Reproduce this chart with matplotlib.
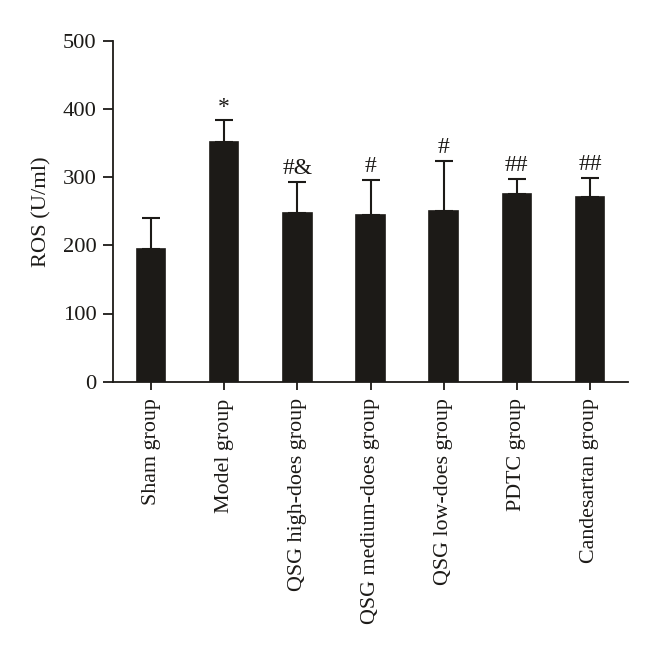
import matplotlib
matplotlib.use('Agg')
import matplotlib.pyplot as plt
import numpy as np

groups = ['Sham group', 'Model group', 'QSG high-does group', 'QSG medium-does group',
          'QSG low-does group', 'PDTC group', 'Candesartan group']
ros = [195, 351, 247, 245, 250, 275, 271]
err = [45, 32, 46, 51, 74, 22, 28]
marks = ['', '*', '#&', '#', '#', '##', '##']

plt.rcParams['font.family'] = ['Liberation Serif', 'DejaVu Serif']

fig = plt.figure(figsize=(6.6, 6.59), dpi=100)
ax = fig.add_axes([113/660, 1-381.7/659, (628-113)/660, (381.7-40.7)/659])

x = np.arange(len(groups))
col = '#1c1a17'
ax.bar(x, ros, width=0.39, color=col, edgecolor=col, linewidth=1.2, zorder=2)
ax.errorbar(x, ros, yerr=[np.zeros(len(err)), err], fmt='none', ecolor=col,
            elinewidth=1.5, capsize=6.3, capthick=1.5, zorder=1)

for i in range(len(groups)):
    ax.text(x[i], ros[i]+err[i]+4, marks[i], ha='center', va='bottom', fontsize=17, color=col)

ax.set_xlim(-0.52, 6.52)
ax.set_ylim(0, 500)
ax.set_yticks([0, 100, 200, 300, 400, 500])
ax.set_xticks(x)
ax.set_xticklabels(groups, rotation=90, fontsize=15.8, color=col)
ax.tick_params(axis='y', labelsize=16.2, length=7, width=1.3, colors=col, pad=5)
ax.tick_params(axis='x', length=6, width=1.3, colors=col, pad=6)
for s in ['top', 'right']:
    ax.spines[s].set_visible(False)
for s in ['left', 'bottom']:
    ax.spines[s].set_linewidth(1.3)
    ax.spines[s].set_color(col)
ax.set_ylabel('ROS (U/ml)', fontsize=16.2, color=col, labelpad=8)

plt.savefig('out.png', dpi=100)
